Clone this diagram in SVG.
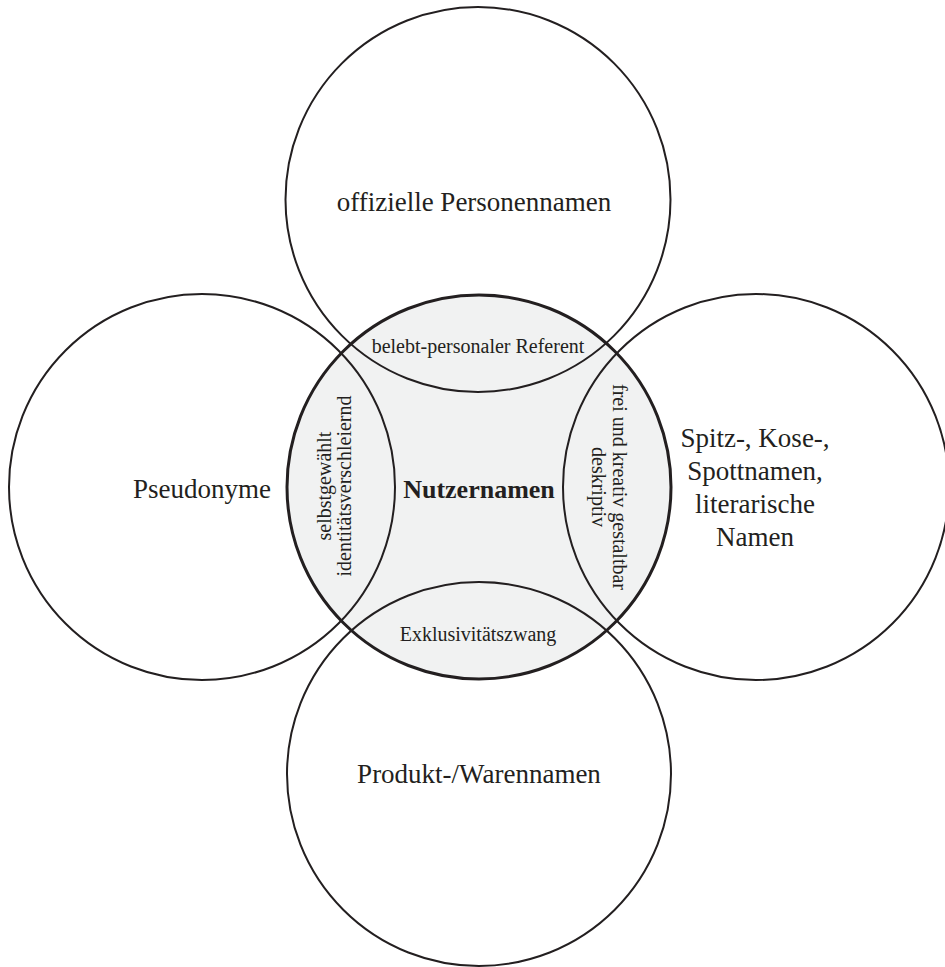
<svg xmlns="http://www.w3.org/2000/svg" width="945" height="967" viewBox="0 0 945 967">
<style>
.bg{fill:#ffffff}
.outer{fill:none;stroke:#231f20;stroke-width:2}
.core{fill:#f1f2f2;stroke:#231f20;stroke-width:3}
text{font-family:"Liberation Serif","Times New Roman",serif;fill:#231f20;text-anchor:middle}
.big{font-size:27px}
.small{font-size:20px}
.bold{font-size:26px;font-weight:bold}
</style>
<rect class="bg" x="0" y="0" width="945" height="967"/>
<g id="nutzernamen">
<circle class="core" cx="479" cy="487" r="192"/>
<text class="bold" x="479" y="498">Nutzernamen</text>
</g>
<g id="offizielle-personennamen">
<circle class="outer" cx="478" cy="199.5" r="192.5"/>
<text class="big" x="474" y="211" font-size="26">offizielle Personennamen</text>
</g>
<g id="pseudonyme">
<circle class="outer" cx="202" cy="487" r="193"/>
<text class="big" x="202" y="498">Pseudonyme</text>
</g>
<g id="spitznamen">
<circle class="outer" cx="756" cy="487" r="193"/>
<text class="big" x="755" y="447">Spitz-, Kose-,</text>
<text class="big" x="755" y="480">Spottnamen,</text>
<text class="big" x="755" y="513">literarische</text>
<text class="big" x="755" y="546">Namen</text>
</g>
<g id="produktnamen">
<circle class="outer" cx="479" cy="774" r="192"/>
<text class="big" x="479" y="783">Produkt-/Warennamen</text>
</g>
<g id="label-top">
<text class="small" x="478" y="353">belebt-personaler Referent</text>
</g>
<g id="label-bottom">
<text class="small" x="478" y="641">Exklusivitätszwang</text>
</g>
<g id="label-left">
<text class="small" transform="translate(331,486) rotate(-90)">selbstgewählt</text>
<text class="small" transform="translate(351,486) rotate(-90)">identitätsverschleiernd</text>
</g>
<g id="label-right">
<text class="small" transform="translate(613,487) rotate(90)">frei und kreativ gestaltbar</text>
<text class="small" transform="translate(592,487) rotate(90)">deskriptiv</text>
</g>
<g id="connectors"/>
</svg>
